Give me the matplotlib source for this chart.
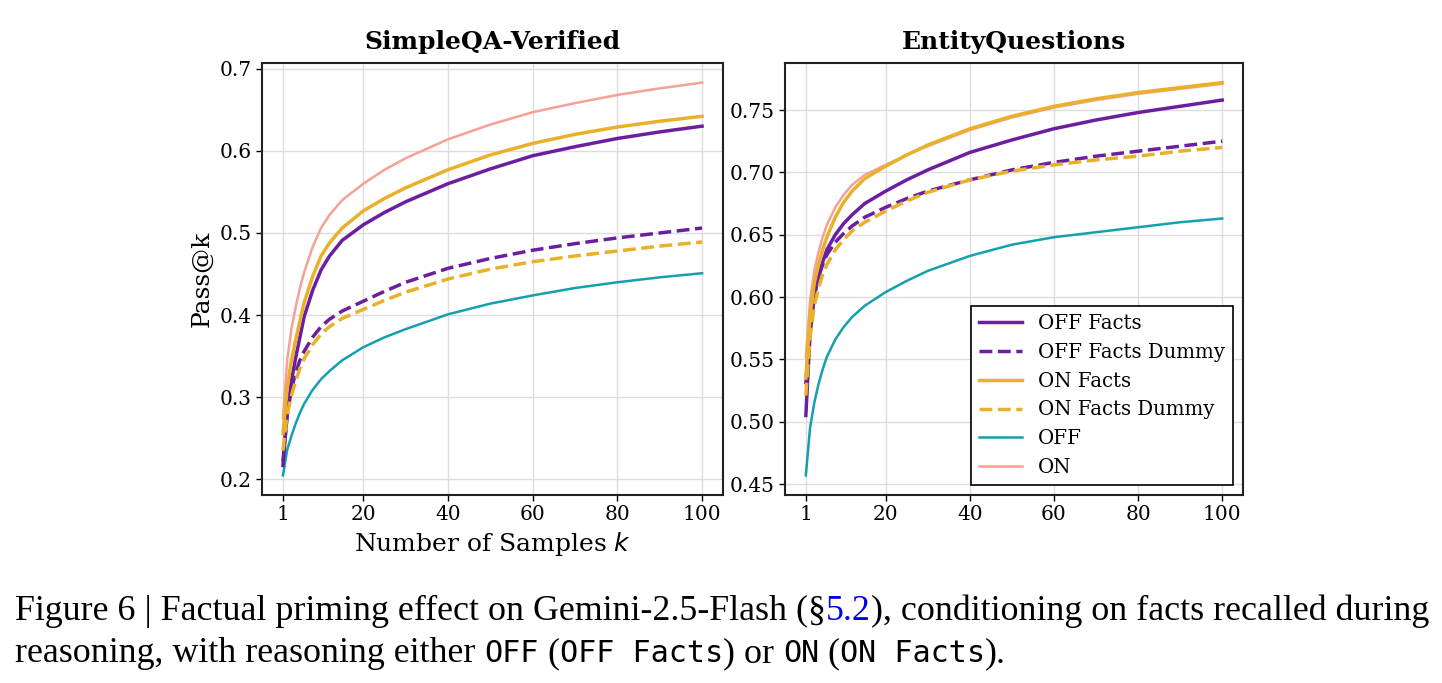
import matplotlib
matplotlib.use("Agg")
import matplotlib.pyplot as plt
from matplotlib.font_manager import FontProperties

plt.rcParams['font.family'] = 'DejaVu Serif'

# number of samples
k = [1, 2, 3, 4, 5, 6, 8, 10, 12, 15, 20, 25, 30, 40, 50, 60, 70, 80, 90, 100]

# SimpleQA-Verified
sqa_off_facts = [0.217, 0.282, 0.320, 0.348, 0.373, 0.398, 0.430, 0.455, 0.472, 0.491, 0.510, 0.525, 0.538, 0.560, 0.578, 0.594, 0.605, 0.615, 0.623, 0.630]
sqa_off_dummy = [0.222, 0.278, 0.310, 0.330, 0.345, 0.356, 0.373, 0.386, 0.395, 0.405, 0.417, 0.429, 0.440, 0.457, 0.469, 0.479, 0.487, 0.494, 0.500, 0.506]
sqa_on_facts = [0.256, 0.312, 0.345, 0.370, 0.393, 0.415, 0.447, 0.472, 0.488, 0.506, 0.527, 0.542, 0.555, 0.577, 0.595, 0.609, 0.620, 0.629, 0.636, 0.642]
sqa_on_dummy = [0.235, 0.280, 0.302, 0.320, 0.335, 0.347, 0.364, 0.377, 0.386, 0.396, 0.407, 0.418, 0.428, 0.444, 0.456, 0.465, 0.472, 0.478, 0.484, 0.489]
sqa_off = [0.205, 0.236, 0.253, 0.268, 0.281, 0.292, 0.309, 0.322, 0.332, 0.345, 0.361, 0.373, 0.383, 0.401, 0.414, 0.424, 0.433, 0.440, 0.446, 0.451]
sqa_on = [0.275, 0.345, 0.383, 0.410, 0.433, 0.452, 0.483, 0.506, 0.522, 0.540, 0.560, 0.577, 0.591, 0.614, 0.632, 0.647, 0.658, 0.668, 0.676, 0.683]

# EntityQuestions
eq_off_facts = [0.505, 0.570, 0.600, 0.616, 0.628, 0.638, 0.650, 0.659, 0.666, 0.675, 0.685, 0.694, 0.702, 0.716, 0.726, 0.735, 0.742, 0.748, 0.753, 0.758]
eq_off_dummy = [0.530, 0.578, 0.603, 0.616, 0.626, 0.634, 0.644, 0.651, 0.657, 0.664, 0.672, 0.679, 0.685, 0.694, 0.702, 0.708, 0.713, 0.717, 0.721, 0.725]
eq_on_facts = [0.535, 0.585, 0.611, 0.626, 0.638, 0.648, 0.664, 0.676, 0.685, 0.695, 0.705, 0.714, 0.722, 0.735, 0.745, 0.753, 0.759, 0.764, 0.768, 0.772]
eq_on_dummy = [0.521, 0.568, 0.593, 0.607, 0.618, 0.626, 0.638, 0.646, 0.653, 0.660, 0.669, 0.677, 0.684, 0.694, 0.701, 0.706, 0.710, 0.713, 0.717, 0.720]
eq_off = [0.457, 0.495, 0.515, 0.530, 0.542, 0.552, 0.566, 0.576, 0.584, 0.593, 0.604, 0.613, 0.621, 0.633, 0.642, 0.648, 0.652, 0.656, 0.660, 0.663]
eq_on = [0.552, 0.597, 0.621, 0.636, 0.648, 0.658, 0.672, 0.682, 0.690, 0.698, 0.706, 0.714, 0.721, 0.734, 0.744, 0.752, 0.758, 0.763, 0.767, 0.771]

labels = ["OFF Facts", "OFF Facts Dummy", "ON Facts", "ON Facts Dummy", "OFF", "ON"]
colors = ["#6B1FA0", "#6B1FA0", "#E9B12A", "#E9B12A", "#14A0AE", "#F5A195"]
styles = ["-", "--", "-", "--", "-", "-"]
widths = [2.5, 2.5, 2.5, 2.5, 1.8, 1.8]
zorders = [3, 3, 3, 3, 2, 2]

fig = plt.figure(figsize=(14.42, 6.83), dpi=100)
ax1 = fig.add_axes([0.1817, 0.2753, 0.3197, 0.6325])
ax2 = fig.add_axes([0.5444, 0.2753, 0.3176, 0.6325])

panels = [
    (ax1, "SimpleQA-Verified", [sqa_off_facts, sqa_off_dummy, sqa_on_facts, sqa_on_dummy, sqa_off, sqa_on]),
    (ax2, "EntityQuestions", [eq_off_facts, eq_off_dummy, eq_on_facts, eq_on_dummy, eq_off, eq_on]),
]

for ax, title, series in panels:
    for ys, lab, c, ls, lw, z in zip(series, labels, colors, styles, widths, zorders):
        ax.plot(k, ys, color=c, linestyle=ls, linewidth=lw, label=lab, zorder=z)
    ax.set_title(title, fontsize=18, fontweight='bold', pad=10)
    ax.set_xticks([1, 20, 40, 60, 80, 100])
    ax.grid(True, color='#dddddd', linewidth=1.0)
    ax.set_axisbelow(True)
    ax.tick_params(labelsize=14.5, length=4, width=1)
    for s in ax.spines.values():
        s.set_linewidth(1.5)
        s.set_color('#222222')

ax1.set_yticks([0.2, 0.3, 0.4, 0.5, 0.6, 0.7])
ax1.set_ylabel("Pass@k", fontsize=18)
ax1.set_xlabel("Number of Samples $k$", fontsize=18)
ax2.set_yticks([0.45, 0.50, 0.55, 0.60, 0.65, 0.70, 0.75])
ax2.set_yticklabels(["0.45", "0.50", "0.55", "0.60", "0.65", "0.70", "0.75"])

leg = ax2.legend(loc='lower right', fontsize=14.2, fancybox=False, framealpha=1,
                 edgecolor='black', handlelength=2.2, borderaxespad=0.5)
leg.get_frame().set_linewidth(1.2)

# caption
line1_txt = [("Figure 6 | Factual priming effect on Gemini-2.5-Flash (§", 's', 'black'),
             ("5.2", 's', '#0000ee'),
             ("), conditioning on facts recalled during", 's', 'black')]
line2_txt = [("reasoning, with reasoning either ", 's', 'black'), ("OFF", 'm', 'black'),
             (" (", 's', 'black'), ("OFF Facts", 'm', 'black'), (") or ", 's', 'black'),
             ("ON", 'm', 'black'), (" (", 's', 'black'), ("ON Facts", 'm', 'black'),
             (").", 's', 'black')]

renderer = fig.canvas.get_renderer()


def text_width(s, fp):
    t1 = fig.text(0, 0, "|" + s + "|", fontproperties=fp)
    t2 = fig.text(0, 0, "||", fontproperties=fp)
    w = t1.get_window_extent(renderer).width - t2.get_window_extent(renderer).width
    t1.remove()
    t2.remove()
    return w


def fonts(size):
    return {'s': FontProperties(family='Liberation Serif', size=size),
            'm': FontProperties(family='DejaVu Sans Mono', size=size * 0.84)}


fp = fonts(21)
w1 = sum(text_width(s, fp[f]) for s, f, c in line1_txt)
fp = fonts(21 * 1413 / w1)


def draw_line(pieces, x0, y0):
    x = x0
    for s, f, c in pieces:
        fig.text(x / 1442, 1 - y0 / 683, s, fontproperties=fp[f], color=c, va='baseline')
        x += text_width(s, fp[f])


draw_line(line1_txt, 15, 620)
draw_line(line2_txt, 15, 662)

fig.savefig("out.png", dpi=100)
